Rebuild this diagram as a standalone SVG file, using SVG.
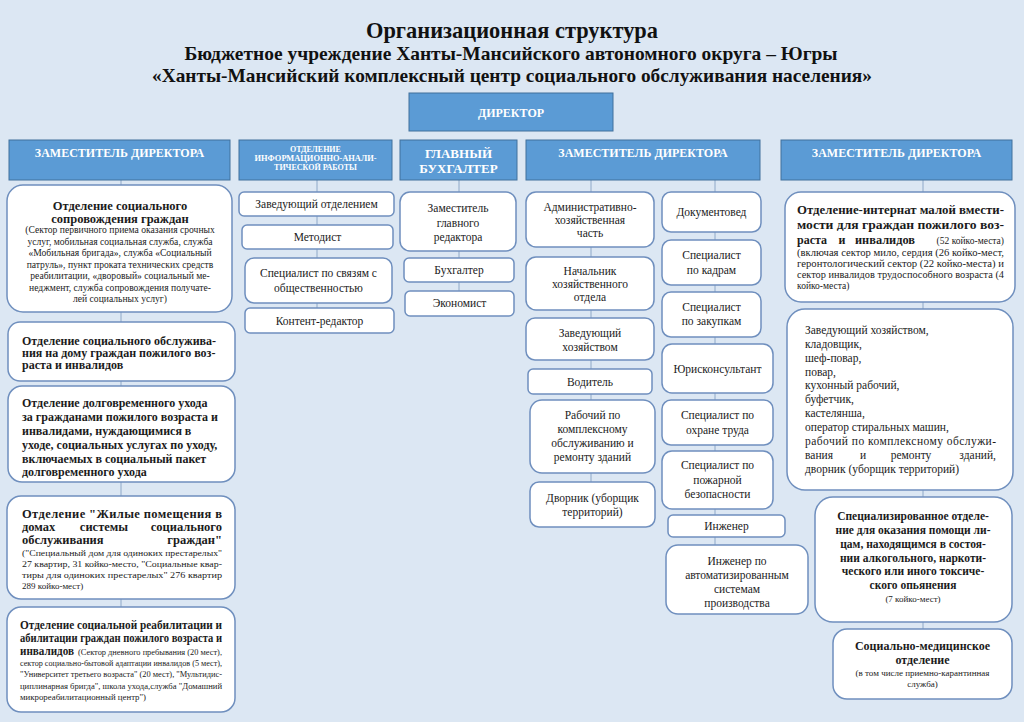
<svg xmlns="http://www.w3.org/2000/svg" width="1024" height="722" viewBox="0 0 1024 722" font-family="Liberation Serif, DejaVu Serif, serif" font-size="11.5">
<style>
.bg{fill:#DCE7F3}
.hdr{fill:#5B9BD5;stroke:#41719C;stroke-width:1}
.ht{fill:#fff;font-weight:bold;text-anchor:middle}
.box{fill:#fff;stroke:#6F8FBE;stroke-width:1.5}
.t{fill:#1b1b1b}
.c{text-anchor:middle}
.e{text-anchor:end}
.b{font-weight:bold}
.ttl{font-weight:bold;fill:#111;text-anchor:middle}
.conn{stroke:#8EA8C8;stroke-width:1;fill:none}
</style>
<rect class="bg" x="0" y="0" width="1024" height="722"/>

<g id="title">
<text class="ttl" x="512" y="38" font-size="24" textLength="292" lengthAdjust="spacingAndGlyphs">Организационная структура</text>
<text class="ttl" x="511" y="60" font-size="19" textLength="653" lengthAdjust="spacingAndGlyphs">Бюджетное учреждение Ханты-Мансийского автономного округа – Югры</text>
<text class="ttl" x="512" y="82" font-size="19" textLength="720" lengthAdjust="spacingAndGlyphs">«Ханты-Мансийский комплексный центр социального обслуживания населения»</text>
</g>

<g id="connectors">
<line class="conn" x1="121" y1="180" x2="121" y2="607"/>
<line class="conn" x1="317" y1="180" x2="317" y2="308"/>
<line class="conn" x1="459" y1="180" x2="459" y2="291"/>
<line class="conn" x1="591" y1="180" x2="591" y2="482"/>
<line class="conn" x1="715" y1="180" x2="715" y2="545"/>
<line class="conn" x1="923" y1="180" x2="923" y2="629"/>
</g>

<g id="director">
<rect class="hdr" x="409" y="93" width="204" height="38"/>
<text class="ht" x="511" y="117" font-size="12">ДИРЕКТОР</text>
</g>

<g id="hdr-dep1">
<rect class="hdr" x="9" y="140" width="221" height="40"/>
<text class="ht" x="119.5" y="157" font-size="12">ЗАМЕСТИТЕЛЬ ДИРЕКТОРА</text>
</g>
<g id="hdr-info">
<rect class="hdr" x="239" y="140" width="153" height="40"/>
<text class="ht" x="315.5" y="152" font-size="8">ОТДЕЛЕНИЕ</text>
<text class="ht" x="315.5" y="161" font-size="8" textLength="122" lengthAdjust="spacingAndGlyphs">ИНФОРМАЦИОННО-АНАЛИ-</text>
<text class="ht" x="315.5" y="170" font-size="8">ТИЧЕСКОЙ РАБОТЫ</text>
</g>
<g id="hdr-acc">
<rect class="hdr" x="400" y="140" width="117" height="40"/>
<text class="ht" x="458.5" y="158" font-size="13">ГЛАВНЫЙ</text>
<text class="ht" x="458.5" y="173" font-size="13">БУХГАЛТЕР</text>
</g>
<g id="hdr-dep2">
<rect class="hdr" x="526" y="140" width="234" height="40"/>
<text class="ht" x="643" y="157" font-size="12">ЗАМЕСТИТЕЛЬ ДИРЕКТОРА</text>
</g>
<g id="hdr-dep3">
<rect class="hdr" x="781" y="140" width="231" height="40"/>
<text class="ht" x="896.5" y="157" font-size="12">ЗАМЕСТИТЕЛЬ ДИРЕКТОРА</text>
</g>

<g id="n-soc-support">
<rect class="box" x="7" y="185" width="225" height="127" rx="16"/>
<text class="t b c" x="120" y="210" font-size="12.5">Отделение социального</text>
<text class="t b c" x="120" y="223" font-size="12.5">сопровождения граждан</text>
<text class="t c" x="120" y="233" font-size="9.6">(Сектор первичного приема оказания срочных</text>
<text class="t c" x="120" y="244.5" font-size="9.6">услуг, мобильная социальная служба, служба</text>
<text class="t c" x="120" y="256" font-size="9.6">«Мобильная бригада», служба «Социальный</text>
<text class="t c" x="120" y="267.5" font-size="9.6">патруль», пункт проката технических средств</text>
<text class="t c" x="120" y="279" font-size="9.6">реабилитации, «дворовый» социальный ме-</text>
<text class="t c" x="120" y="290.5" font-size="9.6">неджмент, служба сопровождения получате-</text>
<text class="t c" x="120" y="302" font-size="9.6">лей социальных услуг)</text>
</g>
<g id="n-home-care">
<rect class="box" x="8" y="322" width="227" height="59" rx="12"/>
<text class="t b" x="22" y="345" font-size="12">Отделение социального обслужива-</text>
<text class="t b" x="22" y="357" font-size="12">ния на дому граждан пожилого воз-</text>
<text class="t b" x="22" y="369" font-size="12">раста и инвалидов</text>
</g>
<g id="n-long-care">
<rect class="box" x="8" y="386" width="227" height="96" rx="14"/>
<text class="t b" x="22" y="407" font-size="12">Отделение долговременного ухода</text>
<text class="t b" x="22" y="421" font-size="12">за гражданами пожилого возраста и</text>
<text class="t b" x="22" y="435" font-size="12">инвалидами, нуждающимися в</text>
<text class="t b" x="22" y="449" font-size="12">уходе, социальных услугах по уходу,</text>
<text class="t b" x="22" y="463" font-size="12">включаемых в социальный пакет</text>
<text class="t b" x="22" y="476" font-size="12">долговременного ухода</text>
</g>
<g id="n-housing">
<rect class="box" x="7" y="496" width="228" height="103" rx="14"/>
<text class="t b" x="22" y="518" font-size="12.5" textLength="200" lengthAdjust="spacing">Отделение "Жилые помещения в</text>
<text class="t b" x="22" y="531" font-size="12.5">домах</text>
<text class="t b c" x="104" y="531" font-size="12.5">системы</text>
<text class="t b e" x="222" y="531" font-size="12.5">социального</text>
<text class="t b" x="22" y="544" font-size="12.5">обслуживания</text>
<text class="t b e" x="222" y="544" font-size="12.5">граждан"</text>
<text class="t" x="22" y="556" font-size="9" textLength="200" lengthAdjust="spacingAndGlyphs">("Специальный дом для одиноких престарелых"</text>
<text class="t" x="22" y="567" font-size="9" textLength="200" lengthAdjust="spacingAndGlyphs">27 квартир, 31 койко-место, "Социальные квар-</text>
<text class="t" x="22" y="578" font-size="9" textLength="200" lengthAdjust="spacingAndGlyphs">тиры для одиноких престарелых" 276 квартир</text>
<text class="t" x="22" y="589" font-size="9">289 койко-мест)</text>
</g>
<g id="n-rehab">
<rect class="box" x="7" y="607" width="228" height="105" rx="14"/>
<text class="t b" x="20" y="629" font-size="12" textLength="202" lengthAdjust="spacingAndGlyphs">Отделение социальной реабилитации и</text>
<text class="t b" x="20" y="642" font-size="12" textLength="202" lengthAdjust="spacingAndGlyphs">абилитации граждан пожилого возраста и</text>
<text class="t b" x="20" y="655" font-size="12" textLength="54" lengthAdjust="spacingAndGlyphs">инвалидов</text>
<text class="t" x="78" y="655" font-size="8.8" textLength="144" lengthAdjust="spacingAndGlyphs">(Сектор дневного пребывания (20 мест),</text>
<text class="t" x="20" y="666" font-size="9" textLength="202" lengthAdjust="spacingAndGlyphs">сектор социально-бытовой адаптации инвалидов (5 мест),</text>
<text class="t" x="20" y="677" font-size="9" textLength="202" lengthAdjust="spacingAndGlyphs">"Университет третьего возраста" (20 мест), "Мультидис-</text>
<text class="t" x="20" y="689" font-size="9" textLength="202" lengthAdjust="spacingAndGlyphs">циплинарная бригда", школа ухода,служба "Домашний</text>
<text class="t" x="20" y="700" font-size="9" textLength="126" lengthAdjust="spacingAndGlyphs">микрореабилитационный центр")</text>
</g>

<g id="n-head-dept">
<rect class="box" x="239" y="192" width="155" height="24" rx="5"/>
<text class="t c" x="316.5" y="208">Заведующий отделением</text>
</g>
<g id="n-methodist">
<rect class="box" x="242" y="225" width="151" height="24" rx="5"/>
<text class="t c" x="317.5" y="241">Методист</text>
</g>
<g id="n-pr">
<rect class="box" x="245" y="258" width="147" height="45" rx="9"/>
<text class="t c" x="318.5" y="277">Специалист по связям с</text>
<text class="t c" x="318.5" y="292">общественностью</text>
</g>
<g id="n-content">
<rect class="box" x="245" y="308" width="149" height="25" rx="5"/>
<text class="t c" x="319.5" y="325">Контент-редактор</text>
</g>

<g id="n-deputy-editor">
<rect class="box" x="400" y="192" width="116" height="59" rx="10"/>
<text class="t c" x="458" y="212">Заместитель</text>
<text class="t c" x="458" y="227">главного</text>
<text class="t c" x="458" y="241">редактора</text>
</g>
<g id="n-accountant">
<rect class="box" x="404" y="258" width="110" height="24" rx="5"/>
<text class="t c" x="459" y="274">Бухгалтер</text>
</g>
<g id="n-economist">
<rect class="box" x="405" y="291" width="109" height="25" rx="5"/>
<text class="t c" x="459.5" y="307">Экономист</text>
</g>

<g id="n-admin">
<rect class="box" x="526" y="192" width="128" height="55" rx="10"/>
<text class="t c" x="590" y="211">Административно-</text>
<text class="t c" x="590" y="224">хозяйственная</text>
<text class="t c" x="590" y="237">часть</text>
</g>
<g id="n-chief-eco">
<rect class="box" x="526" y="257" width="128" height="53" rx="10"/>
<text class="t c" x="590" y="275">Начальник</text>
<text class="t c" x="590" y="288">хозяйственного</text>
<text class="t c" x="590" y="301">отдела</text>
</g>
<g id="n-housekeeper">
<rect class="box" x="526" y="318" width="128" height="42" rx="9"/>
<text class="t c" x="590" y="337">Заведующий</text>
<text class="t c" x="590" y="351">хозяйством</text>
</g>
<g id="n-driver">
<rect class="box" x="528" y="369" width="124" height="25" rx="5"/>
<text class="t c" x="590" y="386">Водитель</text>
</g>
<g id="n-worker">
<rect class="box" x="530" y="400" width="125" height="73" rx="12"/>
<text class="t c" x="592.5" y="419">Рабочий по</text>
<text class="t c" x="592.5" y="433">комплексному</text>
<text class="t c" x="592.5" y="447">обслуживанию и</text>
<text class="t c" x="592.5" y="461">ремонту зданий</text>
</g>
<g id="n-janitor">
<rect class="box" x="530" y="482" width="125" height="45" rx="9"/>
<text class="t c" x="592.5" y="502">Дворник (уборщик</text>
<text class="t c" x="592.5" y="516">территорий)</text>
</g>

<g id="n-docs">
<rect class="box" x="662" y="192" width="99" height="40" rx="9"/>
<text class="t c" x="711.5" y="216">Документовед</text>
</g>
<g id="n-hr">
<rect class="box" x="662" y="240" width="99" height="45" rx="9"/>
<text class="t c" x="711.5" y="259">Специалист</text>
<text class="t c" x="711.5" y="274">по кадрам</text>
</g>
<g id="n-purchase">
<rect class="box" x="662" y="292" width="99" height="45" rx="9"/>
<text class="t c" x="711.5" y="311">Специалист</text>
<text class="t c" x="711.5" y="325">по закупкам</text>
</g>
<g id="n-lawyer">
<rect class="box" x="662" y="344" width="111" height="49" rx="10"/>
<text class="t c" x="717.5" y="373">Юрисконсультант</text>
</g>
<g id="n-labor">
<rect class="box" x="662" y="400" width="111" height="45" rx="9"/>
<text class="t c" x="717.5" y="419">Специалист по</text>
<text class="t c" x="717.5" y="434">охране труда</text>
</g>
<g id="n-fire">
<rect class="box" x="662" y="451" width="111" height="58" rx="10"/>
<text class="t c" x="717.5" y="469">Специалист по</text>
<text class="t c" x="717.5" y="484">пожарной</text>
<text class="t c" x="717.5" y="498">безопасности</text>
</g>
<g id="n-engineer">
<rect class="box" x="668" y="515" width="117" height="22" rx="5"/>
<text class="t c" x="726.5" y="530">Инженер</text>
</g>
<g id="n-eng-auto">
<rect class="box" x="666" y="545" width="142" height="69" rx="12"/>
<text class="t c" x="737" y="565">Инженер по</text>
<text class="t c" x="737" y="579">автоматизированным</text>
<text class="t c" x="737" y="593">системам</text>
<text class="t c" x="737" y="607">производства</text>
</g>

<g id="n-internat">
<rect class="box" x="785" y="192" width="230" height="110" rx="16"/>
<text class="t b" x="797" y="214" font-size="12" textLength="207" lengthAdjust="spacingAndGlyphs">Отделение-интернат малой вмести-</text>
<text class="t b" x="797" y="229" font-size="12" textLength="207" lengthAdjust="spacingAndGlyphs">мости для граждан пожилого воз-</text>
<text class="t b" x="797" y="244" font-size="12">раста</text>
<text class="t b c" x="842" y="244" font-size="12">и</text>
<text class="t b" x="855" y="244" font-size="12" textLength="60" lengthAdjust="spacingAndGlyphs">инвалидов</text>
<text class="t e" x="1004" y="244" font-size="9.5">(52 койко-места)</text>
<text class="t" x="797" y="256" font-size="9.5" textLength="207" lengthAdjust="spacingAndGlyphs">(включая сектор мило, сердия (26 койко-мест,</text>
<text class="t" x="797" y="267" font-size="9.5" textLength="207" lengthAdjust="spacingAndGlyphs">геронтологический сектор (22 койко-места) и</text>
<text class="t" x="797" y="278" font-size="9.5" textLength="207" lengthAdjust="spacingAndGlyphs">сектор инвалидов трудоспособного возраста (4</text>
<text class="t" x="797" y="289" font-size="9.5">койко-места)</text>
</g>
<g id="n-staff">
<rect class="box" x="787" y="309" width="226" height="181" rx="18"/>
<text class="t" x="805" y="334">Заведующий хозяйством,</text>
<text class="t" x="805" y="348">кладовщик,</text>
<text class="t" x="805" y="362">шеф-повар,</text>
<text class="t" x="805" y="376">повар,</text>
<text class="t" x="805" y="389">кухонный рабочий,</text>
<text class="t" x="805" y="403">буфетчик,</text>
<text class="t" x="805" y="417">кастелянша,</text>
<text class="t" x="805" y="431">оператор стиральных машин,</text>
<text class="t" x="805" y="445" textLength="191" lengthAdjust="spacing">рабочий по комплексному обслужи-</text>
<text class="t" x="805" y="459">вания</text>
<text class="t c" x="863" y="459">и</text>
<text class="t c" x="911" y="459">ремонту</text>
<text class="t e" x="996" y="459">зданий,</text>
<text class="t" x="805" y="473">дворник (уборщик территорий)</text>
</g>
<g id="n-special">
<rect class="box" x="815" y="497" width="197" height="125" rx="18"/>
<text class="t b c" x="913" y="520">Специализированное отделе-</text>
<text class="t b c" x="913" y="534">ние для оказания помощи ли-</text>
<text class="t b c" x="913" y="548">цам, находящимся в состоя-</text>
<text class="t b c" x="913" y="562">нии алкогольного, наркоти-</text>
<text class="t b c" x="913" y="575">ческого или иного токсиче-</text>
<text class="t b c" x="913" y="589">ского опьянения</text>
<text class="t c" x="913" y="602" font-size="9">(7 койко-мест)</text>
</g>
<g id="n-medical">
<rect class="box" x="833" y="629" width="179" height="70" rx="14"/>
<text class="t b c" x="922.5" y="650" font-size="12">Социально-медицинское</text>
<text class="t b c" x="922.5" y="664" font-size="12">отделение</text>
<text class="t c" x="922.5" y="676" font-size="9">(в том числе приемно-карантинная</text>
<text class="t c" x="922.5" y="687" font-size="9">служба)</text>
</g>
</svg>
